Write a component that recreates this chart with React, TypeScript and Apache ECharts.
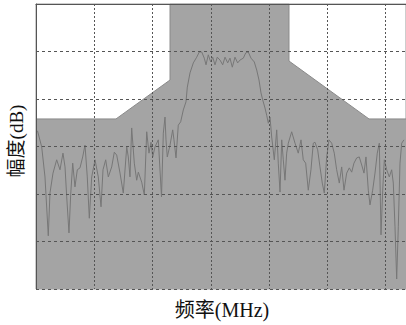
import React, { useEffect, useRef } from "react";
import * as echarts from "echarts";

// Spectrum trace: frequency (grid units) and level (dB)
const freq = [
  0.026, 0.098, 0.154, 0.211, 0.240, 0.292, 0.355, 0.412, 0.463, 0.498,
  0.527, 0.566, 0.596, 0.630, 0.669, 0.709, 0.755, 0.801, 0.841, 0.880,
  0.915, 0.956, 1.013, 1.069, 1.116, 1.150, 1.196, 1.241, 1.299, 1.344,
  1.385, 1.442, 1.498, 1.557, 1.584, 1.613, 1.642, 1.687, 1.728, 1.756,
  1.814, 1.859, 1.900, 1.939, 1.974, 2.003, 2.042, 2.099, 2.154, 2.185,
  2.214, 2.231, 2.253, 2.300, 2.346, 2.368, 2.403, 2.442, 2.483, 2.528,
  2.574, 2.597, 2.643, 2.700, 2.758, 2.803, 2.844, 2.888, 2.918, 2.957,
  2.998, 3.033, 3.072, 3.111, 3.158, 3.204, 3.244, 3.290, 3.329, 3.369,
  3.415, 3.461, 3.501, 3.558, 3.599, 3.643, 3.690, 3.746, 3.788, 3.827,
  3.861, 3.891, 3.930, 3.959, 3.987, 4.016, 4.045, 4.090, 4.131, 4.158,
  4.188, 4.217, 4.244, 4.273, 4.302, 4.330, 4.388, 4.445, 4.501, 4.548,
  4.587, 4.628, 4.673, 4.719, 4.759, 4.788, 4.834, 4.874, 4.913, 4.948,
  4.989, 5.028, 5.075, 5.119, 5.160, 5.205, 5.246, 5.286, 5.332, 5.377,
  5.418, 5.457, 5.504, 5.548, 5.590, 5.629, 5.663, 5.703, 5.732, 5.778,
  5.818, 5.857, 5.892, 5.921, 5.950, 5.978, 6.019, 6.063, 6.104, 6.132,
  6.161, 6.190, 6.218, 6.247, 6.276, 6.315,
];
const level = [
  -26.7, -30.1, -36.4, -48.8, -39.8, -35.6, -32.8, -34.9, -31.4, -34.3,
  -40.6, -48.2, -40.0, -33.5, -38.5, -34.9, -34.5, -32.2, -29.7, -36.4,
  -45.1, -36.4, -32.8, -36.4, -42.7, -34.9, -32.8, -36.4, -34.3, -31.2,
  -31.8, -35.6, -39.8, -30.1, -32.2, -36.4, -26.1, -33.5, -37.1, -35.4,
  -37.5, -40.2, -26.9, -31.4, -29.1, -32.2, -30.1, -28.6, -40.6, -27.2,
  -23.8, -28.6, -32.2, -29.7, -26.5, -28.6, -32.4, -25.5, -24.8, -22.3,
  -20.6, -17.5, -14.5, -12.4, -11.2, -10.1, -10.1, -11.4, -12.8, -10.7,
  -12.2, -11.2, -12.8, -11.2, -11.8, -12.8, -11.2, -12.4, -11.4, -13.3,
  -11.2, -12.4, -11.8, -11.4, -10.3, -10.1, -11.4, -12.2, -13.9, -16.0,
  -18.7, -20.2, -21.9, -23.4, -25.1, -23.8, -28.0, -32.8, -26.5, -33.5,
  -39.6, -28.6, -32.8, -37.1, -31.4, -29.3, -26.9, -29.3, -31.4, -28.6,
  -32.8, -33.5, -39.2, -34.9, -29.3, -29.1, -30.7, -34.3, -37.7, -39.8,
  -32.2, -28.6, -29.3, -31.4, -34.9, -37.7, -34.3, -39.2, -35.6, -34.5,
  -35.4, -33.5, -32.4, -32.2, -33.9, -35.6, -32.2, -39.2, -42.3, -39.2,
  -35.6, -31.4, -29.3, -48.6, -39.2, -32.8, -34.9, -36.4, -34.9, -37.7,
  -46.9, -57.9, -46.9, -33.5, -29.3, -28.6,
];

// Spectrum mask (limit line)
const maskFreq = [0, 1.373, 2.3, 2.3, 4.342, 4.342, 5.715, 6.35];
const maskLevel = [-24.2, -24.2, -16.0, 0, 0, -12.0, -24.2, -24.2];

const xMin = 0;
const xMax = 6.35;
const yMin = -60;
const yMax = 0;

export default function App() {
  const ref = useRef<HTMLDivElement>(null);
  useEffect(() => {
    if (!ref.current) return;
    const chart = echarts.init(ref.current, null, { renderer: "svg" });
    const signal = freq.map((f, i) => [f, level[i]]);
    const mask = maskFreq.map((f, i) => [f, maskLevel[i]]);
    chart.setOption({
      animation: false,
      backgroundColor: "#ffffff",
      grid: {
        left: 36,
        right: 0,
        top: 4,
        bottom: 36,
        show: true,
        borderColor: "#9a9a9a",
        borderWidth: 1,
        backgroundColor: "transparent",
      },
      xAxis: {
        type: "value",
        min: xMin,
        max: xMax,
        interval: 1,
        z: 10,
        axisLabel: { show: false },
        axisTick: { show: false },
        axisLine: { show: true, lineStyle: { color: "#555", width: 1 } },
        splitLine: {
          show: true,
          showMaxLine: false,
          lineStyle: { color: "#555", type: [2, 2], width: 1 },
        },
      },
      yAxis: {
        type: "value",
        min: yMin,
        max: yMax,
        interval: 10,
        z: 10,
        axisLabel: { show: false },
        axisTick: { show: false },
        axisLine: { show: true, lineStyle: { color: "#555", width: 1 } },
        splitLine: {
          show: true,
          showMaxLine: false,
          lineStyle: { color: "#555", type: [3, 3], width: 1 },
        },
      },
      series: [
        {
          type: "line",
          data: mask,
          symbol: "none",
          z: 1,
          lineStyle: { color: "#8a8a8a", width: 1 },
          areaStyle: { color: "#a4a4a4", opacity: 1, origin: "start" },
        },
        {
          type: "line",
          data: signal,
          symbol: "none",
          z: 3,
          lineStyle: { color: "#777777", width: 1 },
        },
      ],
      graphic: [
        {
          type: "text",
          x: 16,
          y: 141,
          rotation: Math.PI / 2,
          style: {
            text: "幅度(dB)",
            fontSize: 19,
            fontFamily: "'Liberation Serif', 'Noto Sans CJK SC', serif",
            fill: "#111",
            align: "center",
            verticalAlign: "middle",
          },
        },
        {
          type: "text",
          x: 222,
          y: 310,
          style: {
            text: "频率(MHz)",
            fontSize: 20,
            fontFamily: "'Liberation Serif', 'Noto Sans CJK SC', serif",
            fill: "#111",
            align: "center",
            verticalAlign: "middle",
          },
        },
      ],
    });
    return () => chart.dispose();
  }, []);
  return (
    <div
      ref={ref}
      style={{ position: "fixed", left: 0, top: 0, width: 406, height: 325 }}
    />
  );
}
